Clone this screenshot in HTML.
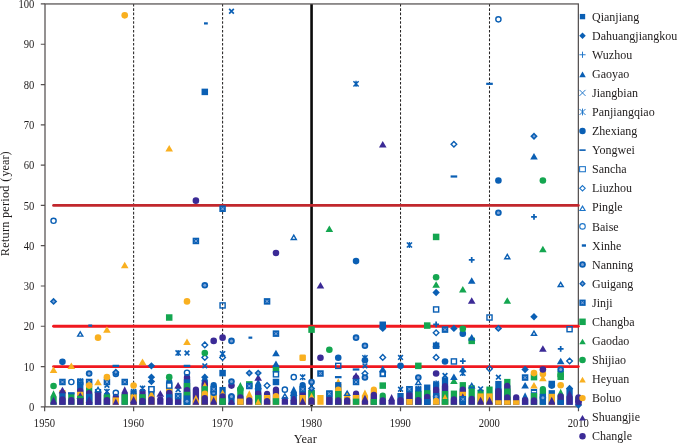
<!DOCTYPE html>
<html lang="en">
<head>
<meta charset="utf-8">
<title>Return period by year</title>
<style>html,body{margin:0;padding:0;background:#fff}body{width:678px;height:443px;overflow:hidden}</style>
</head>
<body>
<svg width="678" height="443" viewBox="0 0 678 443" style="display:block">
<rect width="678" height="443" fill="#fff"/>
<line x1="133.62" y1="3.95" x2="133.62" y2="406.85" stroke="#262424" stroke-width="1.05" stroke-dasharray="2.6 1.73"/>
<line x1="222.59" y1="3.95" x2="222.59" y2="406.85" stroke="#262424" stroke-width="1.05" stroke-dasharray="2.6 1.73"/>
<line x1="400.53" y1="3.95" x2="400.53" y2="406.85" stroke="#262424" stroke-width="1.05" stroke-dasharray="2.6 1.73"/>
<line x1="489.5" y1="3.95" x2="489.5" y2="406.85" stroke="#262424" stroke-width="1.05" stroke-dasharray="2.6 1.73"/>
<line x1="311.56" y1="3.95" x2="311.56" y2="406.85" stroke="#0a0a0a" stroke-width="2.6"/>
<rect x="45" y="3.95" width="533.35" height="402.9" fill="none" stroke="#555050" stroke-width="1.25"/>
<path d="M40.8 406.85H45M40.8 366.56H45M40.8 326.27H45M40.8 285.98H45M40.8 245.69H45M40.8 205.4H45M40.8 165.11H45M40.8 124.82H45M40.8 84.53H45M40.8 44.24H45M40.8 3.95H45M44.65 406.85V411.35M133.62 406.85V411.35M222.59 406.85V411.35M311.56 406.85V411.35M400.53 406.85V411.35M489.5 406.85V411.35M578.47 406.85V411.35" stroke="#555050" stroke-width="1.2" fill="none"/>
<line x1="53.55" y1="205.4" x2="578.35" y2="205.4" stroke="#c1272d" stroke-width="2.8" stroke-linecap="round"/>
<line x1="53.55" y1="326.27" x2="578.35" y2="326.27" stroke="#f0181f" stroke-width="2.8" stroke-linecap="round"/>
<line x1="53.55" y1="366.56" x2="578.35" y2="366.56" stroke="#f0181f" stroke-width="2.8" stroke-linecap="round"/>
<g>
<path d="M50.4 404.8V396.66L53.55 390.36L56.7 396.66V404.8Z" fill="#14a650"/>
<path d="M50.4 404.8V403.11L53.55 396.81L56.7 403.11V404.8Z" fill="#3b2a96"/>
<circle cx="53.55" cy="386.01" r="3.3" fill="#14a650"/>
<polygon points="53.55,366.59 57.35,373.09 49.75,373.09" fill="#f9b020"/>
<polygon points="53.55,297.7 57.25,301.4 53.55,305.1 49.85,301.4" fill="#0a5fb4"/><polygon points="53.55,299.9 55.05,301.4 53.55,302.9 52.05,301.4" fill="#7aa2d8"/>
<circle cx="53.55" cy="220.82" r="2.6" fill="none" stroke="#0a5fb4" stroke-width="1.4"/>
<path d="M59.29 404.8V390.16H65.59V404.8Z" fill="#f9b020"/>
<path d="M59.29 404.8V392.98H65.59V404.8Z" fill="#0a5fb4"/>
<path d="M59.29 404.8V399.3A3.15 3.15 0 0 1 65.59 399.3V404.8Z" fill="#3b2a96"/>
<polygon points="62.44,386.73 66.24,393.23 58.64,393.23" fill="#3b2a96"/>
<rect x="59.19" y="378.73" width="6.5" height="6.5" fill="#0a5fb4"/><path d="M60.94 380.48L63.94 383.48M63.94 380.48L60.94 383.48" stroke="#7aa2d8" stroke-width="0.9" fill="none"/><circle cx="62.44" cy="381.98" r="0.9" fill="#7aa2d8"/>
<circle cx="62.44" cy="361.83" r="3.3" fill="#0a5fb4"/>
<path d="M68.19 404.8V393.38H74.49V404.8Z" fill="#14a650"/>
<path d="M68.19 404.8V400.11A3.15 3.15 0 0 1 74.49 400.11V404.8Z" fill="#3b2a96"/>
<rect x="68.04" y="392.16" width="6.6" height="2.2" fill="#0a5fb4"/>
<circle cx="71.34" cy="381.98" r="2.6" fill="none" stroke="#0a5fb4" stroke-width="1.4"/>
<polygon points="71.34,362.56 75.14,369.06 67.54,369.06" fill="#f9b020"/>
<path d="M77.09 404.8V382.1H83.39V404.8Z" fill="#0a5fb4"/>
<path d="M77.09 404.8V390.84A3.15 3.15 0 0 1 83.39 390.84V404.8Z" fill="#3b2a96"/>
<path d="M77.09 404.8V391.77H83.39V404.8Z" fill="#f9b020"/>
<polygon points="80.24,392.37 84.04,398.87 76.44,398.87" fill="#3b2a96"/>
<path d="M77.09 404.8V395.8H83.39V404.8Z" fill="#14a650"/>
<path d="M77.09 404.8V398.22H83.39V404.8Z" fill="#3b2a96"/>
<rect x="76.99" y="378.73" width="6.5" height="6.5" fill="#0a5fb4"/><path d="M78.74 380.48L81.74 383.48M81.74 380.48L78.74 383.48" stroke="#7aa2d8" stroke-width="0.9" fill="none"/><circle cx="80.24" cy="381.98" r="0.9" fill="#7aa2d8"/>
<path d="M77.64 378.57L82.84 383.77M82.84 378.57L77.64 383.77M80.24 378.17V384.17" stroke="#0a5fb4" stroke-width="1.45" fill="none"/>
<polygon points="80.24,331.83 82.79,336.13 77.69,336.13" fill="none" stroke="#0a5fb4" stroke-width="1.4"/>
<path d="M85.98 404.8V385.73H92.28V404.8Z" fill="#14a650"/>
<path d="M85.98 404.8V393.26A3.15 3.15 0 0 1 92.28 393.26V404.8Z" fill="#3b2a96"/>
<path d="M85.98 404.8V393.78H92.28V404.8Z" fill="#0a5fb4"/>
<path d="M85.98 404.8V402.3L89.13 396L92.28 402.3V404.8Z" fill="#3b2a96"/>
<rect x="85.88" y="378.73" width="6.5" height="6.5" fill="#0a5fb4"/><path d="M87.63 380.48L90.63 383.48M90.63 380.48L87.63 383.48" stroke="#7aa2d8" stroke-width="0.9" fill="none"/><circle cx="89.13" cy="381.98" r="0.9" fill="#7aa2d8"/>
<circle cx="89.13" cy="385.6" r="3.3" fill="#f9b020"/>
<circle cx="89.13" cy="373.52" r="3.3" fill="#0a5fb4"/><circle cx="89.13" cy="373.52" r="1.5" fill="#7aa2d8"/>
<rect x="88.33" y="324.47" width="3.8" height="2.2" fill="#0a5fb4"/>
<path d="M94.88 404.8V388.95H101.18V404.8Z" fill="#0a5fb4"/>
<path d="M94.88 404.8V391.77H101.18V404.8Z" fill="#3b2a96"/>
<polygon points="98.03,387.43 100.58,391.73 95.48,391.73" fill="#fff" stroke="#0a5fb4" stroke-width="1.4"/>
<polygon points="98.03,378.68 101.83,385.18 94.23,385.18" fill="#f9b020"/>
<circle cx="98.03" cy="337.66" r="3.3" fill="#f9b020"/>
<path d="M103.78 404.8V395.45L106.93 389.15L110.08 395.45V404.8Z" fill="#3b2a96"/>
<path d="M103.78 404.8V393.78H110.08V404.8Z" fill="#14a650"/>
<path d="M103.78 404.8V400.11A3.15 3.15 0 0 1 110.08 400.11V404.8Z" fill="#3b2a96"/>
<path d="M104.33 389.05L109.53 394.25M109.53 389.05L104.33 394.25M106.93 388.65V394.65" stroke="#0a5fb4" stroke-width="1.45" fill="none"/>
<path d="M104.58 382.85L109.28 387.55M109.28 382.85L104.58 387.55" stroke="#0a5fb4" stroke-width="1.7" fill="none"/>
<rect x="103.68" y="378.73" width="6.5" height="6.5" fill="#0a5fb4"/><path d="M105.43 380.48L108.43 383.48M108.43 380.48L105.43 383.48" stroke="#7aa2d8" stroke-width="0.9" fill="none"/><circle cx="106.93" cy="381.98" r="0.9" fill="#7aa2d8"/>
<circle cx="106.93" cy="377.14" r="3.3" fill="#f9b020"/>
<polygon points="106.93,326.3 110.73,332.8 103.13,332.8" fill="#f9b020"/>
<path d="M112.68 404.8V396.88A3.15 3.15 0 0 1 118.98 396.88V404.8Z" fill="#3b2a96"/>
<path d="M112.68 404.8V397.41H118.98V404.8Z" fill="#f9b020"/>
<path d="M112.68 404.8V404.72L115.83 398.42L118.98 404.72V404.8Z" fill="#3b2a96"/>
<circle cx="115.83" cy="392.85" r="2.6" fill="none" stroke="#0a5fb4" stroke-width="1.4"/>
<circle cx="115.83" cy="373.92" r="3.3" fill="#0a5fb4"/><circle cx="115.83" cy="373.92" r="1.5" fill="#7aa2d8"/>
<polygon points="115.83,368.61 119.53,372.31 115.83,376.01 112.13,372.31" fill="#0a5fb4"/><polygon points="115.83,370.81 117.33,372.31 115.83,373.81 114.33,372.31" fill="#7aa2d8"/>
<rect x="112.53" y="364.76" width="6.6" height="2.2" fill="#0a5fb4"/>
<path d="M121.57 404.8V392.63L124.72 386.33L127.87 392.63V404.8Z" fill="#3b2a96"/>
<path d="M121.57 404.8V394.19H127.87V404.8Z" fill="#14a650"/>
<rect x="121.47" y="378.73" width="6.5" height="6.5" fill="#0a5fb4"/><path d="M123.22 380.48L126.22 383.48M126.22 380.48L123.22 383.48" stroke="#7aa2d8" stroke-width="0.9" fill="none"/><circle cx="124.72" cy="381.98" r="0.9" fill="#7aa2d8"/>
<polygon points="124.72,261.84 128.52,268.34 120.92,268.34" fill="#f9b020"/>
<circle cx="124.72" cy="15.34" r="3.3" fill="#f9b020"/>
<path d="M130.47 404.8V390.16H136.77V404.8Z" fill="#0a5fb4"/>
<path d="M130.47 404.8V395.67A3.15 3.15 0 0 1 136.77 395.67V404.8Z" fill="#f9b020"/>
<path d="M130.47 404.8V402.3L133.62 396L136.77 402.3V404.8Z" fill="#3b2a96"/>
<path d="M131.02 389.05L136.22 394.25M136.22 389.05L131.02 394.25M133.62 388.65V394.65" stroke="#0a5fb4" stroke-width="1.45" fill="none"/>
<circle cx="133.62" cy="385.6" r="3.3" fill="#f9b020"/>
<path d="M139.37 404.8V391.65A3.15 3.15 0 0 1 145.67 391.65V404.8Z" fill="#3b2a96"/>
<path d="M139.37 404.8V394.19H145.67V404.8Z" fill="#14a650"/>
<path d="M139.37 404.8V400.91A3.15 3.15 0 0 1 145.67 400.91V404.8Z" fill="#3b2a96"/>
<path d="M139.92 385.82L145.12 391.02M145.12 385.82L139.92 391.02M142.52 385.42V391.42" stroke="#0a5fb4" stroke-width="1.45" fill="none"/>
<polygon points="142.52,358.53 146.32,365.03 138.72,365.03" fill="#f9b020"/>
<path d="M148.26 404.8V386.13H154.56V404.8Z" fill="#0a5fb4"/>
<path d="M148.26 404.8V396.66L151.41 390.36L154.56 396.66V404.8Z" fill="#f9b020"/>
<path d="M148.26 404.8V399.3A3.15 3.15 0 0 1 154.56 399.3V404.8Z" fill="#3b2a96"/>
<rect x="148.86" y="386.68" width="5.1" height="5.1" fill="#fff" stroke="#0a5fb4" stroke-width="1.4"/>
<polygon points="151.41,377.87 155.11,381.57 151.41,385.27 147.71,381.57" fill="#0a5fb4"/>
<polygon points="151.41,373.44 155.11,377.14 151.41,380.84 147.71,377.14" fill="#0a5fb4"/>
<polygon points="151.41,362.16 155.11,365.86 151.41,369.56 147.71,365.86" fill="#0a5fb4"/>
<path d="M157.16 404.8V399.3A3.15 3.15 0 0 1 163.46 399.3V404.8Z" fill="#3b2a96"/>
<polygon points="160.31,390.36 164.11,396.86 156.51,396.86" fill="#3b2a96"/>
<path d="M166.06 404.8V381.98A3.15 3.15 0 0 1 172.36 381.98V404.8Z" fill="#0a5fb4"/>
<path d="M166.06 404.8V389.23A3.15 3.15 0 0 1 172.36 389.23V404.8Z" fill="#f9b020"/>
<path d="M166.06 404.8V392.85A3.15 3.15 0 0 1 172.36 392.85V404.8Z" fill="#3b2a96"/>
<path d="M166.06 404.8V394.19H172.36V404.8Z" fill="#0a5fb4"/>
<path d="M166.06 404.8V400.51A3.15 3.15 0 0 1 172.36 400.51V404.8Z" fill="#3b2a96"/>
<rect x="166.66" y="383.05" width="5.1" height="5.1" fill="#fff" stroke="#0a5fb4" stroke-width="1.4"/>
<circle cx="169.21" cy="377.14" r="3.3" fill="#14a650"/>
<rect x="165.96" y="314.26" width="6.5" height="6.5" fill="#14a650"/>
<polygon points="169.21,144.99 173.01,151.49 165.41,151.49" fill="#f9b020"/>
<path d="M174.96 404.8V392.98H181.26V404.8Z" fill="#0a5fb4"/>
<path d="M174.96 404.8V400.11A3.15 3.15 0 0 1 181.26 400.11V404.8Z" fill="#3b2a96"/>
<rect x="174.86" y="392.83" width="6.5" height="6.5" fill="#0a5fb4"/><path d="M176.61 394.58L179.61 397.58M179.61 394.58L176.61 397.58" stroke="#7aa2d8" stroke-width="0.9" fill="none"/><circle cx="178.11" cy="396.08" r="0.9" fill="#7aa2d8"/>
<path d="M175.76 387.28L180.46 391.98M180.46 387.28L175.76 391.98" stroke="#0a5fb4" stroke-width="1.7" fill="none"/>
<polygon points="178.11,381.9 181.91,388.4 174.31,388.4" fill="#3b2a96"/>
<path d="M175.51 350.37L180.71 355.57M180.71 350.37L175.51 355.57M178.11 349.97V355.97" stroke="#0a5fb4" stroke-width="1.45" fill="none"/>
<path d="M183.85 404.8V377.14A3.15 3.15 0 0 1 190.15 377.14V404.8Z" fill="#3b2a96"/>
<path d="M183.85 404.8V379.28H190.15V404.8Z" fill="#0a5fb4"/>
<path d="M183.85 404.8V382.91H190.15V404.8Z" fill="#14a650"/>
<path d="M183.85 404.8V390.03A3.15 3.15 0 0 1 190.15 390.03V404.8Z" fill="#3b2a96"/>
<path d="M183.85 404.8V391.77H190.15V404.8Z" fill="#14a650"/>
<path d="M183.85 404.8V395.39H190.15V404.8Z" fill="#0a5fb4"/>
<circle cx="187" cy="401.32" r="3.3" fill="#0a5fb4"/><circle cx="187" cy="401.32" r="1.5" fill="#7aa2d8"/>
<circle cx="187" cy="372.71" r="2.6" fill="none" stroke="#0a5fb4" stroke-width="1.4"/>
<rect x="183.7" y="364.76" width="6.6" height="2.2" fill="#0a5fb4"/>
<path d="M184.65 350.62L189.35 355.32M189.35 350.62L184.65 355.32" stroke="#0a5fb4" stroke-width="1.7" fill="none"/>
<polygon points="187,338.39 190.8,344.89 183.2,344.89" fill="#f9b020"/>
<circle cx="187" cy="301.4" r="3.3" fill="#f9b020"/>
<path d="M192.75 404.8V389.63A3.15 3.15 0 0 1 199.05 389.63V404.8Z" fill="#3b2a96"/>
<path d="M192.75 404.8V401.09L195.9 394.79L199.05 401.09V404.8Z" fill="#f9b020"/>
<path d="M192.75 404.8V404.32L195.9 398.02L199.05 404.32V404.8Z" fill="#3b2a96"/>
<rect x="192.65" y="237.71" width="6.5" height="6.5" fill="#0a5fb4"/><path d="M194.4 239.46L197.4 242.46M197.4 239.46L194.4 242.46" stroke="#7aa2d8" stroke-width="0.9" fill="none"/><circle cx="195.9" cy="240.96" r="0.9" fill="#7aa2d8"/>
<circle cx="195.9" cy="200.67" r="3.3" fill="#3b2a96"/>
<path d="M201.65 404.8V380.14L204.8 373.84L207.95 380.14V404.8Z" fill="#0a5fb4"/>
<path d="M201.65 404.8V383.77L204.8 377.47L207.95 383.77V404.8Z" fill="#3b2a96"/>
<path d="M201.65 404.8V388.2L204.8 381.9L207.95 388.2V404.8Z" fill="#f9b020"/>
<path d="M201.65 404.8V386.13H207.95V404.8Z" fill="#14a650"/>
<path d="M201.65 404.8V393.66A3.15 3.15 0 0 1 207.95 393.66V404.8Z" fill="#f9b020"/>
<path d="M201.65 404.8V398.09A3.15 3.15 0 0 1 207.95 398.09V404.8Z" fill="#3b2a96"/>
<polygon points="204.8,373.44 208.5,377.14 204.8,380.84 201.1,377.14" fill="#0a5fb4"/>
<path d="M202.45 363.51L207.15 368.21M207.15 363.51L202.45 368.21" stroke="#0a5fb4" stroke-width="1.7" fill="none"/>
<polygon points="204.8,354.6 207.6,357.4 204.8,360.2 202,357.4" fill="none" stroke="#0a5fb4" stroke-width="1.4"/>
<circle cx="204.8" cy="352.97" r="3.3" fill="#14a650"/>
<polygon points="204.8,342.11 207.6,344.91 204.8,347.71 202,344.91" fill="none" stroke="#0a5fb4" stroke-width="1.4"/>
<circle cx="204.8" cy="285.28" r="3.3" fill="#0a5fb4"/><circle cx="204.8" cy="285.28" r="1.5" fill="#7aa2d8"/>
<rect x="201.55" y="88.64" width="6.5" height="6.5" fill="#0a5fb4"/>
<rect x="204" y="22.3" width="3.8" height="2.2" fill="#0a5fb4"/>
<path d="M210.54 404.8V385.2A3.15 3.15 0 0 1 216.84 385.2V404.8Z" fill="#0a5fb4"/>
<path d="M210.54 404.8V396.48A3.15 3.15 0 0 1 216.84 396.48V404.8Z" fill="#f9b020"/>
<path d="M210.54 404.8V403.11L213.69 396.81L216.84 403.11V404.8Z" fill="#3b2a96"/>
<circle cx="213.69" cy="392.85" r="3.3" fill="#0a5fb4"/><circle cx="213.69" cy="392.85" r="1.5" fill="#7aa2d8"/>
<rect x="210.44" y="385.98" width="6.5" height="6.5" fill="#0a5fb4"/><path d="M212.19 387.73L215.19 390.73M215.19 387.73L212.19 390.73" stroke="#7aa2d8" stroke-width="0.9" fill="none"/><circle cx="213.69" cy="389.23" r="0.9" fill="#7aa2d8"/>
<circle cx="213.69" cy="340.88" r="3.3" fill="#3b2a96"/>
<path d="M219.44 404.8V386.93H225.74V404.8Z" fill="#0a5fb4"/>
<path d="M219.44 404.8V395.85L222.59 389.55L225.74 395.85V404.8Z" fill="#f9b020"/>
<path d="M219.44 404.8V396.48A3.15 3.15 0 0 1 225.74 396.48V404.8Z" fill="#3b2a96"/>
<path d="M219.44 404.8V398.22H225.74V404.8Z" fill="#14a650"/>
<rect x="219.34" y="369.86" width="6.5" height="6.5" fill="#0a5fb4"/>
<polygon points="222.59,354.6 225.39,357.4 222.59,360.2 219.79,357.4" fill="none" stroke="#0a5fb4" stroke-width="1.4"/>
<path d="M219.99 351.17L225.19 356.37M225.19 351.17L219.99 356.37M222.59 350.77V356.77" stroke="#0a5fb4" stroke-width="1.45" fill="none"/>
<circle cx="222.59" cy="337.66" r="3.3" fill="#3b2a96"/>
<rect x="220.04" y="302.88" width="5.1" height="5.1" fill="none" stroke="#0a5fb4" stroke-width="1.4"/>
<rect x="219.34" y="205.48" width="6.5" height="6.5" fill="#0a5fb4"/><path d="M221.09 207.23L224.09 210.23M224.09 207.23L221.09 210.23" stroke="#7aa2d8" stroke-width="0.9" fill="none"/><circle cx="222.59" cy="208.73" r="0.9" fill="#7aa2d8"/>
<path d="M228.34 404.8V396.48A3.15 3.15 0 0 1 234.64 396.48V404.8Z" fill="#0a5fb4"/>
<path d="M228.34 404.8V403.51L231.49 397.21L234.64 403.51V404.8Z" fill="#3b2a96"/>
<circle cx="231.49" cy="396.48" r="3.3" fill="#0a5fb4"/><circle cx="231.49" cy="396.48" r="1.5" fill="#7aa2d8"/>
<circle cx="231.49" cy="385.6" r="3.3" fill="#3b2a96"/>
<circle cx="231.49" cy="381.57" r="3.3" fill="#0a5fb4"/><circle cx="231.49" cy="381.57" r="1.5" fill="#7aa2d8"/>
<circle cx="231.49" cy="340.88" r="3.3" fill="#0a5fb4"/><circle cx="231.49" cy="340.88" r="1.5" fill="#7aa2d8"/>
<path d="M229.14 8.96L233.84 13.66M233.84 8.96L229.14 13.66" stroke="#0a5fb4" stroke-width="1.7" fill="none"/>
<path d="M237.23 404.8V388.2L240.38 381.9L243.53 388.2V404.8Z" fill="#14a650"/>
<circle cx="240.38" cy="389.23" r="3.3" fill="#14a650"/>
<path d="M237.23 404.8V397.29A3.15 3.15 0 0 1 243.53 397.29V404.8Z" fill="#3b2a96"/>
<path d="M237.23 404.8V398.62H243.53V404.8Z" fill="#f9b020"/>
<path d="M246.13 404.8V396.66L249.28 390.36L252.43 396.66V404.8Z" fill="#f9b020"/>
<path d="M246.13 404.8V400.51A3.15 3.15 0 0 1 252.43 400.51V404.8Z" fill="#3b2a96"/>
<rect x="246.03" y="381.14" width="6.5" height="6.5" fill="#14a650"/>
<rect x="246.03" y="382.76" width="6.5" height="6.5" fill="#0a5fb4"/><path d="M247.78 384.51L250.78 387.51M250.78 384.51L247.78 387.51" stroke="#7aa2d8" stroke-width="0.9" fill="none"/><circle cx="249.28" cy="386.01" r="0.9" fill="#7aa2d8"/>
<polygon points="249.28,369.41 252.98,373.11 249.28,376.81 245.58,373.11" fill="#0a5fb4"/><polygon points="249.28,371.61 250.78,373.11 249.28,374.61 247.78,373.11" fill="#7aa2d8"/>
<rect x="248.48" y="336.56" width="3.8" height="2.2" fill="#0a5fb4"/>
<path d="M255.03 404.8V384.98L258.18 378.68L261.33 384.98V404.8Z" fill="#0a5fb4"/>
<path d="M255.03 404.8V393.66A3.15 3.15 0 0 1 261.33 393.66V404.8Z" fill="#3b2a96"/>
<path d="M255.03 404.8V394.99H261.33V404.8Z" fill="#14a650"/>
<path d="M255.03 404.8V404.72L258.18 398.42L261.33 404.72V404.8Z" fill="#f9b020"/>
<polygon points="258.18,382.71 261.98,389.21 254.38,389.21" fill="#0a5fb4"/>
<polygon points="258.18,374.24 261.98,380.74 254.38,380.74" fill="#3b2a96"/>
<polygon points="258.18,369.41 261.88,373.11 258.18,376.81 254.48,373.11" fill="#0a5fb4"/><polygon points="258.18,371.61 259.68,373.11 258.18,374.61 256.68,373.11" fill="#7aa2d8"/>
<path d="M263.93 404.8V393.66A3.15 3.15 0 0 1 270.22 393.66V404.8Z" fill="#3b2a96"/>
<path d="M263.93 404.8V394.99H270.22V404.8Z" fill="#f9b020"/>
<path d="M263.93 404.8V400.91A3.15 3.15 0 0 1 270.22 400.91V404.8Z" fill="#3b2a96"/>
<polygon points="267.07,382.8 269.88,385.6 267.07,388.4 264.27,385.6" fill="none" stroke="#0a5fb4" stroke-width="1.4"/>
<rect x="263.82" y="298.15" width="6.5" height="6.5" fill="#0a5fb4"/><path d="M265.57 299.9L268.57 302.9M268.57 299.9L265.57 302.9" stroke="#7aa2d8" stroke-width="0.9" fill="none"/><circle cx="267.07" cy="301.4" r="0.9" fill="#7aa2d8"/>
<path d="M272.82 404.8V389.63A3.15 3.15 0 0 1 279.12 389.63V404.8Z" fill="#3b2a96"/>
<path d="M272.82 404.8V396.08A3.15 3.15 0 0 1 279.12 396.08V404.8Z" fill="#f9b020"/>
<path d="M272.82 404.8V398.22H279.12V404.8Z" fill="#14a650"/>
<rect x="272.72" y="378.73" width="6.5" height="6.5" fill="#0a5fb4"/>
<rect x="272.72" y="365.83" width="6.5" height="6.5" fill="#14a650"/>
<rect x="273.42" y="371.77" width="5.1" height="5.1" fill="none" stroke="#0a5fb4" stroke-width="1.4"/>
<polygon points="275.97,360.55 279.77,367.05 272.17,367.05" fill="#0a5fb4"/>
<polygon points="275.97,349.67 279.77,356.17 272.17,356.17" fill="#0a5fb4"/>
<rect x="272.72" y="330.38" width="6.5" height="6.5" fill="#0a5fb4"/><path d="M274.47 332.13L277.47 335.13M277.47 332.13L274.47 335.13" stroke="#7aa2d8" stroke-width="0.9" fill="none"/><circle cx="275.97" cy="333.63" r="0.9" fill="#7aa2d8"/>
<circle cx="275.97" cy="253.05" r="3.3" fill="#3b2a96"/>
<path d="M281.72 404.8V400.11A3.15 3.15 0 0 1 288.02 400.11V404.8Z" fill="#3b2a96"/>
<polygon points="284.87,393.87 287.42,398.17 282.32,398.17" fill="none" stroke="#0a5fb4" stroke-width="1.4"/>
<circle cx="284.87" cy="389.63" r="2.6" fill="none" stroke="#0a5fb4" stroke-width="1.4"/>
<path d="M290.62 404.8V392.23L293.77 385.93L296.92 392.23V404.8Z" fill="#0a5fb4"/>
<path d="M290.62 404.8V400.29L293.77 393.99L296.92 400.29V404.8Z" fill="#3b2a96"/>
<polygon points="293.77,391.05 296.32,395.35 291.22,395.35" fill="none" stroke="#0a5fb4" stroke-width="1.4"/>
<circle cx="293.77" cy="377.14" r="2.6" fill="none" stroke="#0a5fb4" stroke-width="1.4"/>
<polygon points="293.77,235.13 296.32,239.43 291.22,239.43" fill="none" stroke="#0a5fb4" stroke-width="1.4"/>
<path d="M299.51 404.8V385.2A3.15 3.15 0 0 1 305.81 385.2V404.8Z" fill="#0a5fb4"/>
<path d="M299.51 404.8V393.26A3.15 3.15 0 0 1 305.81 393.26V404.8Z" fill="#3b2a96"/>
<path d="M299.51 404.8V394.99H305.81V404.8Z" fill="#f9b020"/>
<path d="M299.51 404.8V403.91L302.66 397.61L305.81 403.91V404.8Z" fill="#3b2a96"/>
<rect x="299.41" y="385.98" width="6.5" height="6.5" fill="#0a5fb4"/><path d="M301.16 387.73L304.16 390.73M304.16 387.73L301.16 390.73" stroke="#7aa2d8" stroke-width="0.9" fill="none"/><circle cx="302.66" cy="389.23" r="0.9" fill="#7aa2d8"/>
<path d="M300.06 374.54L305.26 379.74M305.26 374.54L300.06 379.74M302.66 374.14V380.14" stroke="#0a5fb4" stroke-width="1.45" fill="none"/>
<rect x="299.41" y="354.55" width="6.5" height="6.5" rx="1.3" fill="#f9b020"/>
<path d="M308.41 404.8V390.62L311.56 384.32L314.71 390.62V404.8Z" fill="#0a5fb4"/>
<path d="M308.41 404.8V390.16H314.71V404.8Z" fill="#14a650"/>
<path d="M308.41 404.8V399.08L311.56 392.78L314.71 399.08V404.8Z" fill="#f9b020"/>
<path d="M308.41 404.8V400.51A3.15 3.15 0 0 1 314.71 400.51V404.8Z" fill="#3b2a96"/>
<polygon points="311.56,384.72 315.26,388.42 311.56,392.12 307.86,388.42" fill="#0a5fb4"/><polygon points="311.56,386.92 313.06,388.42 311.56,389.92 310.06,388.42" fill="#7aa2d8"/>
<circle cx="311.56" cy="381.98" r="3.3" fill="#0a5fb4"/><circle cx="311.56" cy="381.98" r="1.5" fill="#7aa2d8"/>
<rect x="308.31" y="326.35" width="6.5" height="6.5" fill="#14a650"/>
<path d="M317.31 404.8V394.99H323.61V404.8Z" fill="#f9b020"/>
<rect x="317.21" y="370.27" width="6.5" height="6.5" fill="#0a5fb4"/><path d="M318.96 372.02L321.96 375.02M321.96 372.02L318.96 375.02" stroke="#7aa2d8" stroke-width="0.9" fill="none"/><circle cx="320.46" cy="373.52" r="0.9" fill="#7aa2d8"/>
<circle cx="320.46" cy="357.8" r="3.3" fill="#3b2a96"/>
<polygon points="320.46,281.98 324.26,288.48 316.66,288.48" fill="#3b2a96"/>
<path d="M326.2 404.8V390.56H332.5V404.8Z" fill="#0a5fb4"/>
<path d="M326.2 404.8V398.49A3.15 3.15 0 0 1 332.5 398.49V404.8Z" fill="#3b2a96"/>
<rect x="326.1" y="390.41" width="6.5" height="6.5" fill="#0a5fb4"/><path d="M327.85 392.16L330.85 395.16M330.85 392.16L327.85 395.16" stroke="#7aa2d8" stroke-width="0.9" fill="none"/><circle cx="329.35" cy="393.66" r="0.9" fill="#7aa2d8"/>
<circle cx="329.35" cy="349.74" r="3.3" fill="#14a650"/>
<polygon points="329.35,225.57 333.15,232.07 325.55,232.07" fill="#14a650"/>
<path d="M335.1 404.8V384.57L338.25 378.27L341.4 384.57V404.8Z" fill="#f9b020"/>
<path d="M335.1 404.8V382.1H341.4V404.8Z" fill="#0a5fb4"/>
<path d="M335.1 404.8V389.63A3.15 3.15 0 0 1 341.4 389.63V404.8Z" fill="#f9b020"/>
<path d="M335.1 404.8V390.96H341.4V404.8Z" fill="#14a650"/>
<path d="M335.1 404.8V400.51A3.15 3.15 0 0 1 341.4 400.51V404.8Z" fill="#3b2a96"/>
<rect x="334.95" y="376.04" width="6.6" height="2.2" fill="#0a5fb4"/>
<rect x="335.7" y="363.31" width="5.1" height="5.1" fill="none" stroke="#0a5fb4" stroke-width="1.4"/>
<circle cx="338.25" cy="357.8" r="3.3" fill="#0a5fb4"/>
<path d="M344 404.8V397.06L347.15 390.76L350.3 397.06V404.8Z" fill="#f9b020"/>
<path d="M344 404.8V400.51A3.15 3.15 0 0 1 350.3 400.51V404.8Z" fill="#3b2a96"/>
<polygon points="347.15,391.05 349.7,395.35 344.6,395.35" fill="none" stroke="#0a5fb4" stroke-width="1.4"/>
<path d="M352.89 404.8V393.66A3.15 3.15 0 0 1 359.19 393.66V404.8Z" fill="#3b2a96"/>
<path d="M352.89 404.8V394.99H359.19V404.8Z" fill="#f9b020"/>
<path d="M352.89 404.8V398.62H359.19V404.8Z" fill="#14a650"/>
<polygon points="356.04,372.23 359.84,378.73 352.24,378.73" fill="#3b2a96"/>
<circle cx="356.04" cy="377.95" r="3.3" fill="#3b2a96"/>
<rect x="352.79" y="378.73" width="6.5" height="6.5" fill="#0a5fb4"/><path d="M354.54 380.48L357.54 383.48M357.54 380.48L354.54 383.48" stroke="#7aa2d8" stroke-width="0.9" fill="none"/><circle cx="356.04" cy="381.98" r="0.9" fill="#7aa2d8"/>
<rect x="352.74" y="368.39" width="6.6" height="2.2" fill="#0a5fb4"/>
<circle cx="356.04" cy="337.66" r="3.3" fill="#0a5fb4"/><circle cx="356.04" cy="337.66" r="1.5" fill="#7aa2d8"/>
<circle cx="356.04" cy="261.11" r="3.3" fill="#0a5fb4"/>
<path d="M353.44 81.23L358.64 86.43M358.64 81.23L353.44 86.43M356.04 80.83V86.83" stroke="#0a5fb4" stroke-width="1.45" fill="none"/>
<path d="M361.79 404.8V395.85L364.94 389.55L368.09 395.85V404.8Z" fill="#f9b020"/>
<path d="M361.79 404.8V401.09L364.94 394.79L368.09 401.09V404.8Z" fill="#3b2a96"/>
<polygon points="364.94,370.72 367.74,373.52 364.94,376.32 362.14,373.52" fill="none" stroke="#0a5fb4" stroke-width="1.4"/>
<circle cx="364.94" cy="377.54" r="3.3" fill="#0a5fb4"/><circle cx="364.94" cy="377.54" r="1.5" fill="#7aa2d8"/>
<path d="M362.59 363.51L367.29 368.21M367.29 363.51L362.59 368.21" stroke="#0a5fb4" stroke-width="1.7" fill="none"/>
<circle cx="364.94" cy="360.22" r="3.3" fill="#0a5fb4"/>
<path d="M362.34 355.2L367.54 360.4M367.54 355.2L362.34 360.4M364.94 354.8V360.8" stroke="#0a5fb4" stroke-width="1.45" fill="none"/>
<circle cx="364.94" cy="345.72" r="3.3" fill="#0a5fb4"/><circle cx="364.94" cy="345.72" r="1.5" fill="#7aa2d8"/>
<path d="M370.69 404.8V389.63A3.15 3.15 0 0 1 376.99 389.63V404.8Z" fill="#f9b020"/>
<path d="M370.69 404.8V394.87A3.15 3.15 0 0 1 376.99 394.87V404.8Z" fill="#3b2a96"/>
<path d="M370.69 404.8V399.02H376.99V404.8Z" fill="#14a650"/>
<path d="M379.59 404.8V395.67A3.15 3.15 0 0 1 385.89 395.67V404.8Z" fill="#14a650"/>
<path d="M379.59 404.8V400.51A3.15 3.15 0 0 1 385.89 400.51V404.8Z" fill="#3b2a96"/>
<rect x="379.49" y="382.35" width="6.5" height="6.5" fill="#14a650"/>
<rect x="379.49" y="370.67" width="6.5" height="6.5" fill="#0a5fb4"/><rect x="381.34" y="372.52" width="2.8" height="2.8" fill="#fff"/>
<polygon points="382.74,365.78 386.54,372.28 378.94,372.28" fill="#0a5fb4"/>
<polygon points="382.74,354.6 385.54,357.4 382.74,360.2 379.94,357.4" fill="none" stroke="#0a5fb4" stroke-width="1.4"/>
<polygon points="382.74,324.69 386.44,328.39 382.74,332.09 379.04,328.39" fill="#0a5fb4"/>
<rect x="379.49" y="321.51" width="6.5" height="6.5" fill="#0a5fb4"/>
<polygon points="382.74,140.96 386.54,147.46 378.94,147.46" fill="#3b2a96"/>
<path d="M388.48 404.8V400.29L391.63 393.99L394.78 400.29V404.8Z" fill="#3b2a96"/>
<path d="M397.38 404.8V392.98H403.68V404.8Z" fill="#0a5fb4"/>
<path d="M397.38 404.8V400.11A3.15 3.15 0 0 1 403.68 400.11V404.8Z" fill="#3b2a96"/>
<path d="M398.18 386.88L402.88 391.58M402.88 386.88L398.18 391.58" stroke="#0a5fb4" stroke-width="1.7" fill="none"/>
<circle cx="400.53" cy="365.86" r="3.3" fill="#0a5fb4"/>
<path d="M398.18 355.05L402.88 359.75M402.88 355.05L398.18 359.75" stroke="#0a5fb4" stroke-width="1.7" fill="none"/>
<path d="M406.28 404.8V386.13H412.58V404.8Z" fill="#0a5fb4"/>
<path d="M406.28 404.8V394.06A3.15 3.15 0 0 1 412.58 394.06V404.8Z" fill="#3b2a96"/>
<path d="M406.28 404.8V399.02H412.58V404.8Z" fill="#f9b020"/>
<rect x="406.18" y="385.98" width="6.5" height="6.5" fill="#0a5fb4"/><path d="M407.93 387.73L410.93 390.73M410.93 387.73L407.93 390.73" stroke="#7aa2d8" stroke-width="0.9" fill="none"/><circle cx="409.43" cy="389.23" r="0.9" fill="#7aa2d8"/>
<path d="M406.83 242.39L412.03 247.59M412.03 242.39L406.83 247.59M409.43 241.99V247.99" stroke="#0a5fb4" stroke-width="1.45" fill="none"/>
<path d="M415.17 404.8V386.53H421.47V404.8Z" fill="#0a5fb4"/>
<path d="M415.17 404.8V390.96H421.47V404.8Z" fill="#14a650"/>
<path d="M415.17 404.8V400.11A3.15 3.15 0 0 1 421.47 400.11V404.8Z" fill="#3b2a96"/>
<path d="M415.72 386.23L420.92 391.43M420.92 386.23L415.72 391.43M418.32 385.83V391.83" stroke="#0a5fb4" stroke-width="1.45" fill="none"/>
<polygon points="418.32,380.18 420.87,384.48 415.77,384.48" fill="none" stroke="#0a5fb4" stroke-width="1.4"/>
<circle cx="418.32" cy="377.54" r="3.3" fill="#0a5fb4"/><circle cx="418.32" cy="377.54" r="1.5" fill="#7aa2d8"/>
<rect x="415.07" y="362.61" width="6.5" height="6.5" fill="#14a650"/>
<path d="M424.07 404.8V384.52H430.37V404.8Z" fill="#0a5fb4"/>
<path d="M424.07 404.8V390.16H430.37V404.8Z" fill="#14a650"/>
<path d="M424.07 404.8V396.88A3.15 3.15 0 0 1 430.37 396.88V404.8Z" fill="#3b2a96"/>
<path d="M424.07 404.8V399.02H430.37V404.8Z" fill="#0a5fb4"/>
<rect x="423.97" y="322.32" width="6.5" height="6.5" fill="#14a650"/>
<path d="M432.97 404.8V382.1H439.27V404.8Z" fill="#0a5fb4"/>
<path d="M432.97 404.8V389.63A3.15 3.15 0 0 1 439.27 389.63V404.8Z" fill="#3b2a96"/>
<path d="M432.97 404.8V392.98H439.27V404.8Z" fill="#0a5fb4"/>
<circle cx="436.12" cy="396.48" r="3.3" fill="#0a5fb4"/><circle cx="436.12" cy="396.48" r="1.5" fill="#7aa2d8"/>
<path d="M432.97 404.8V400.91A3.15 3.15 0 0 1 439.27 400.91V404.8Z" fill="#f9b020"/>
<path d="M433.52 380.99L438.72 386.19M438.72 380.99L433.52 386.19M436.12 380.59V386.59" stroke="#0a5fb4" stroke-width="1.45" fill="none"/>
<circle cx="436.12" cy="373.52" r="3.3" fill="#3b2a96"/>
<polygon points="436.12,354.6 438.92,357.4 436.12,360.2 433.32,357.4" fill="none" stroke="#0a5fb4" stroke-width="1.4"/>
<rect x="432.87" y="342.47" width="6.5" height="6.5" fill="#0a5fb4"/><path d="M434.62 344.22L437.62 347.22M437.62 344.22L434.62 347.22" stroke="#7aa2d8" stroke-width="0.9" fill="none"/><circle cx="436.12" cy="345.72" r="0.9" fill="#7aa2d8"/>
<polygon points="436.12,340.8 439.92,347.3 432.32,347.3" fill="#0a5fb4"/>
<polygon points="436.12,330.02 438.92,332.82 436.12,335.62 433.32,332.82" fill="none" stroke="#0a5fb4" stroke-width="1.4"/>
<path d="M433.22 324.36H439.02M436.12 321.46V327.26" stroke="#0a5fb4" stroke-width="1.7" fill="none"/>
<rect x="433.57" y="306.9" width="5.1" height="5.1" fill="none" stroke="#0a5fb4" stroke-width="1.4"/>
<polygon points="436.12,288.83 439.82,292.53 436.12,296.23 432.42,292.53" fill="#0a5fb4"/>
<polygon points="436.12,281.17 439.92,287.67 432.32,287.67" fill="#14a650"/>
<circle cx="436.12" cy="277.22" r="3.3" fill="#14a650"/>
<rect x="432.87" y="233.68" width="6.5" height="6.5" fill="#14a650"/>
<path d="M441.87 404.8V377.26H448.16V404.8Z" fill="#0a5fb4"/>
<path d="M441.87 404.8V386.01A3.15 3.15 0 0 1 448.16 386.01V404.8Z" fill="#3b2a96"/>
<path d="M441.87 404.8V390.96H448.16V404.8Z" fill="#14a650"/>
<path d="M441.87 404.8V400.29L445.01 393.99L448.16 400.29V404.8Z" fill="#f9b020"/>
<path d="M441.87 404.8V399.02H448.16V404.8Z" fill="#14a650"/>
<path d="M442.66 373.18L447.37 377.88M447.37 373.18L442.66 377.88" stroke="#0a5fb4" stroke-width="1.7" fill="none"/>
<circle cx="445.01" cy="361.43" r="3.3" fill="#0a5fb4"/>
<rect x="441.76" y="326.35" width="6.5" height="6.5" fill="#0a5fb4"/><path d="M443.51 328.1L446.51 331.1M446.51 328.1L443.51 331.1" stroke="#7aa2d8" stroke-width="0.9" fill="none"/><circle cx="445.01" cy="329.6" r="0.9" fill="#7aa2d8"/>
<path d="M450.76 404.8V390.56H457.06V404.8Z" fill="#14a650"/>
<path d="M450.76 404.8V399.3A3.15 3.15 0 0 1 457.06 399.3V404.8Z" fill="#3b2a96"/>
<polygon points="453.91,377.47 457.71,383.97 450.11,383.97" fill="#14a650"/>
<polygon points="453.91,373.44 457.71,379.94 450.11,379.94" fill="#0a5fb4"/>
<rect x="451.36" y="358.88" width="5.1" height="5.1" fill="none" stroke="#0a5fb4" stroke-width="1.4"/>
<polygon points="453.91,324.69 457.61,328.39 453.91,332.09 450.21,328.39" fill="#0a5fb4"/>
<rect x="450.61" y="175.4" width="6.6" height="2.2" fill="#0a5fb4"/>
<polygon points="453.91,141.46 456.71,144.26 453.91,147.06 451.11,144.26" fill="none" stroke="#0a5fb4" stroke-width="1.4"/>
<path d="M459.66 404.8V382.1H465.96V404.8Z" fill="#14a650"/>
<path d="M459.66 404.8V389.63A3.15 3.15 0 0 1 465.96 389.63V404.8Z" fill="#3b2a96"/>
<path d="M459.66 404.8V391.77H465.96V404.8Z" fill="#f9b020"/>
<path d="M459.66 404.8V399.48L462.81 393.18L465.96 399.48V404.8Z" fill="#3b2a96"/>
<path d="M459.66 404.8V396.2H465.96V404.8Z" fill="#0a5fb4"/>
<rect x="459.56" y="396.05" width="6.5" height="6.5" fill="#0a5fb4"/><path d="M461.31 397.8L464.31 400.8M464.31 397.8L461.31 400.8" stroke="#7aa2d8" stroke-width="0.9" fill="none"/><circle cx="462.81" cy="399.3" r="0.9" fill="#7aa2d8"/>
<path d="M460.21 370.51L465.41 375.71M465.41 370.51L460.21 375.71M462.81 370.11V376.11" stroke="#0a5fb4" stroke-width="1.45" fill="none"/>
<polygon points="462.81,365.78 466.61,372.28 459.01,372.28" fill="#0a5fb4"/>
<path d="M459.91 361.03H465.71M462.81 358.13V363.93" stroke="#0a5fb4" stroke-width="1.7" fill="none"/>
<circle cx="462.81" cy="333.63" r="3.3" fill="#0a5fb4"/>
<circle cx="462.81" cy="328.79" r="3.3" fill="#14a650"/>
<polygon points="462.81,286.01 466.61,292.51 459.01,292.51" fill="#14a650"/>
<path d="M468.56 404.8V385.32H474.86V404.8Z" fill="#14a650"/>
<path d="M468.56 404.8V398.9A3.15 3.15 0 0 1 474.86 398.9V404.8Z" fill="#3b2a96"/>
<polygon points="471.71,383.4 474.26,387.7 469.16,387.7" fill="none" stroke="#0a5fb4" stroke-width="1.4"/>
<rect x="468.46" y="337.63" width="6.5" height="6.5" fill="#14a650"/>
<polygon points="471.71,333.95 475.51,340.45 467.91,340.45" fill="#0a5fb4"/>
<polygon points="471.71,297.29 475.51,303.79 467.91,303.79" fill="#3b2a96"/>
<polygon points="471.71,277.15 475.51,283.65 467.91,283.65" fill="#0a5fb4"/>
<path d="M468.81 259.9H474.61M471.71 257V262.8" stroke="#0a5fb4" stroke-width="1.7" fill="none"/>
<path d="M477.45 404.8V389.75H483.75V404.8Z" fill="#14a650"/>
<path d="M477.45 404.8V393.38H483.75V404.8Z" fill="#f9b020"/>
<path d="M477.45 404.8V403.11L480.6 396.81L483.75 403.11V404.8Z" fill="#3b2a96"/>
<path d="M478.25 386.48L482.95 391.18M482.95 386.48L478.25 391.18" stroke="#0a5fb4" stroke-width="1.7" fill="none"/>
<path d="M486.35 404.8V386.53H492.65V404.8Z" fill="#14a650"/>
<path d="M486.35 404.8V393.38H492.65V404.8Z" fill="#f9b020"/>
<path d="M486.35 404.8V403.11L489.5 396.81L492.65 403.11V404.8Z" fill="#3b2a96"/>
<polygon points="489.5,365.88 492.3,368.68 489.5,371.48 486.7,368.68" fill="none" stroke="#0a5fb4" stroke-width="1.4"/>
<rect x="486.95" y="314.96" width="5.1" height="5.1" fill="none" stroke="#0a5fb4" stroke-width="1.4"/>
<rect x="486.2" y="82.73" width="6.6" height="2.2" fill="#0a5fb4"/>
<path d="M495.25 404.8V380.89H501.55V404.8Z" fill="#0a5fb4"/>
<path d="M495.25 404.8V389.01L498.4 382.71L501.55 389.01V404.8Z" fill="#0a5fb4"/>
<path d="M495.25 404.8V391.24A3.15 3.15 0 0 1 501.55 391.24V404.8Z" fill="#3b2a96"/>
<path d="M495.25 404.8V400.23H501.55V404.8Z" fill="#f9b020"/>
<path d="M496.05 374.79L500.75 379.49M500.75 374.79L496.05 379.49" stroke="#0a5fb4" stroke-width="1.7" fill="none"/>
<polygon points="498.4,324.69 502.1,328.39 498.4,332.09 494.7,328.39" fill="#0a5fb4"/><polygon points="498.4,326.89 499.9,328.39 498.4,329.89 496.9,328.39" fill="#7aa2d8"/>
<circle cx="498.4" cy="212.76" r="3.3" fill="#0a5fb4"/><circle cx="498.4" cy="212.76" r="1.5" fill="#7aa2d8"/>
<circle cx="498.4" cy="180.53" r="3.3" fill="#0a5fb4"/>
<circle cx="498.4" cy="19.37" r="2.6" fill="none" stroke="#0a5fb4" stroke-width="1.4"/>
<path d="M504.14 404.8V378.88H510.44V404.8Z" fill="#14a650"/>
<path d="M504.14 404.8V386.01A3.15 3.15 0 0 1 510.44 386.01V404.8Z" fill="#3b2a96"/>
<path d="M504.14 404.8V388.55H510.44V404.8Z" fill="#14a650"/>
<path d="M504.14 404.8V397.29A3.15 3.15 0 0 1 510.44 397.29V404.8Z" fill="#3b2a96"/>
<path d="M504.14 404.8V400.23H510.44V404.8Z" fill="#f9b020"/>
<polygon points="507.29,297.29 511.09,303.79 503.49,303.79" fill="#14a650"/>
<polygon points="507.29,254.47 509.84,258.77 504.74,258.77" fill="none" stroke="#0a5fb4" stroke-width="1.4"/>
<path d="M513.04 404.8V397.29A3.15 3.15 0 0 1 519.34 397.29V404.8Z" fill="#3b2a96"/>
<path d="M513.04 404.8V400.23H519.34V404.8Z" fill="#f9b020"/>
<path d="M521.94 404.8V398.67L525.09 392.37L528.24 398.67V404.8Z" fill="#0a5fb4"/>
<path d="M521.94 404.8V400.11A3.15 3.15 0 0 1 528.24 400.11V404.8Z" fill="#3b2a96"/>
<polygon points="525.09,381.9 528.89,388.4 521.29,388.4" fill="#0a5fb4"/>
<rect x="521.84" y="374.29" width="6.5" height="6.5" fill="#0a5fb4"/><path d="M523.59 376.04L526.59 379.04M526.59 376.04L523.59 379.04" stroke="#7aa2d8" stroke-width="0.9" fill="none"/><circle cx="525.09" cy="377.54" r="0.9" fill="#7aa2d8"/>
<polygon points="525.09,365.79 528.79,369.49 525.09,373.19 521.39,369.49" fill="#0a5fb4"/>
<path d="M530.84 404.8V388.95H537.13V404.8Z" fill="#0a5fb4"/>
<path d="M530.84 404.8V392.98H537.13V404.8Z" fill="#14a650"/>
<path d="M530.84 404.8V400.11A3.15 3.15 0 0 1 537.13 400.11V404.8Z" fill="#3b2a96"/>
<rect x="531.78" y="391.05" width="4.4" height="1.2" fill="#fff"/>
<polygon points="533.99,381.9 537.78,388.4 530.19,388.4" fill="#f9b020"/>
<rect x="530.74" y="373.89" width="6.5" height="6.5" fill="#14a650"/>
<circle cx="533.99" cy="373.11" r="3.3" fill="#f9b020"/>
<polygon points="533.99,331.02 536.53,335.32 531.44,335.32" fill="none" stroke="#0a5fb4" stroke-width="1.4"/>
<polygon points="533.99,313.01 537.69,316.71 533.99,320.41 530.28,316.71" fill="#0a5fb4"/>
<path d="M531.09 216.79H536.88M533.99 213.89V219.69" stroke="#0a5fb4" stroke-width="1.7" fill="none"/>
<polygon points="533.99,153.05 537.78,159.55 530.19,159.55" fill="#0a5fb4"/>
<polygon points="533.99,132.51 537.69,136.21 533.99,139.91 530.28,136.21" fill="#0a5fb4"/><polygon points="533.99,134.71 535.49,136.21 533.99,137.71 532.49,136.21" fill="#7aa2d8"/>
<path d="M539.73 404.8V389.23A3.15 3.15 0 0 1 546.03 389.23V404.8Z" fill="#14a650"/>
<path d="M539.73 404.8V393.78H546.03V404.8Z" fill="#0a5fb4"/>
<circle cx="542.88" cy="397.69" r="3.3" fill="#0a5fb4"/><circle cx="542.88" cy="397.69" r="1.5" fill="#7aa2d8"/>
<polygon points="542.88,374.65 546.68,381.15 539.08,381.15" fill="#f9b020"/>
<circle cx="542.88" cy="373.92" r="3.3" fill="#f9b020"/>
<circle cx="542.88" cy="369.49" r="3.3" fill="#3b2a96"/>
<polygon points="542.88,345.24 546.68,351.74 539.08,351.74" fill="#3b2a96"/>
<polygon points="542.88,245.72 546.68,252.22 539.08,252.22" fill="#14a650"/>
<circle cx="542.88" cy="180.53" r="3.3" fill="#14a650"/>
<path d="M548.63 404.8V390.16H554.93V404.8Z" fill="#0a5fb4"/>
<path d="M548.63 404.8V393.78H554.93V404.8Z" fill="#f9b020"/>
<path d="M548.63 404.8V403.11L551.78 396.81L554.93 403.11V404.8Z" fill="#3b2a96"/>
<rect x="548.53" y="380.74" width="6.5" height="6.5" fill="#0a5fb4"/>
<circle cx="551.78" cy="385.6" r="3.3" fill="#0a5fb4"/>
<path d="M557.53 404.8V395.05L560.68 388.75L563.83 395.05V404.8Z" fill="#14a650"/>
<path d="M557.53 404.8V396.48A3.15 3.15 0 0 1 563.83 396.48V404.8Z" fill="#3b2a96"/>
<path d="M557.53 404.8V399.83H563.83V404.8Z" fill="#0a5fb4"/>
<circle cx="560.68" cy="385.2" r="3.3" fill="#f9b020"/>
<rect x="557.43" y="373.49" width="6.5" height="6.5" fill="#14a650"/>
<rect x="557.43" y="370.67" width="6.5" height="6.5" fill="#14a650"/>
<circle cx="560.68" cy="369.49" r="3.3" fill="#0a5fb4"/><circle cx="560.68" cy="369.49" r="1.5" fill="#7aa2d8"/>
<polygon points="560.68,357.73 564.48,364.23 556.88,364.23" fill="#0a5fb4"/>
<path d="M557.78 348.94H563.58M560.68 346.04V351.84" stroke="#0a5fb4" stroke-width="1.7" fill="none"/>
<polygon points="560.68,282.27 563.23,286.57 558.13,286.57" fill="none" stroke="#0a5fb4" stroke-width="1.4"/>
<polygon points="569.57,384.72 573.27,388.42 569.57,392.12 565.87,388.42" fill="#0a5fb4"/>
<path d="M566.42 404.8V388.55H572.72V404.8Z" fill="#0a5fb4"/>
<path d="M566.42 404.8V396.66L569.57 390.36L572.72 396.66V404.8Z" fill="#3b2a96"/>
<polygon points="569.57,358.23 572.37,361.03 569.57,363.83 566.77,361.03" fill="none" stroke="#0a5fb4" stroke-width="1.4"/>
<rect x="567.02" y="326.65" width="5.1" height="5.1" fill="none" stroke="#0a5fb4" stroke-width="1.4"/>
<circle cx="578.47" cy="398.49" r="3.3" fill="#14a650"/>
<polygon points="578.47,401.24 582.17,404.94 578.47,408.64 574.77,404.94" fill="#0a5fb4"/>
<path d="M575.32 404.8V397.29A3.15 3.15 0 0 1 581.62 397.29V404.8Z" fill="#3b2a96"/>
<circle cx="578.47" cy="401.32" r="3.3" fill="#3b2a96"/>
</g>
<g font-family="'Liberation Serif', serif" fill="#1f1c1c">
<g font-size="12.2" text-anchor="end">
<text x="34.4" y="410.95" textLength="5.3" lengthAdjust="spacingAndGlyphs">0</text>
<text x="34.4" y="370.66" textLength="10.6" lengthAdjust="spacingAndGlyphs">10</text>
<text x="34.4" y="330.37" textLength="10.6" lengthAdjust="spacingAndGlyphs">20</text>
<text x="34.4" y="290.08" textLength="10.6" lengthAdjust="spacingAndGlyphs">30</text>
<text x="34.4" y="249.79" textLength="10.6" lengthAdjust="spacingAndGlyphs">40</text>
<text x="34.4" y="209.5" textLength="10.6" lengthAdjust="spacingAndGlyphs">50</text>
<text x="34.4" y="169.21" textLength="10.6" lengthAdjust="spacingAndGlyphs">60</text>
<text x="34.4" y="128.92" textLength="10.6" lengthAdjust="spacingAndGlyphs">70</text>
<text x="34.4" y="88.63" textLength="10.6" lengthAdjust="spacingAndGlyphs">80</text>
<text x="34.4" y="48.34" textLength="10.6" lengthAdjust="spacingAndGlyphs">90</text>
<text x="34.4" y="8.05" textLength="15.9" lengthAdjust="spacingAndGlyphs">100</text>
</g>
<g font-size="12.2" text-anchor="middle">
<text x="44.45" y="427.3" textLength="21.2" lengthAdjust="spacingAndGlyphs">1950</text>
<text x="133.42" y="427.3" textLength="21.2" lengthAdjust="spacingAndGlyphs">1960</text>
<text x="222.39" y="427.3" textLength="21.2" lengthAdjust="spacingAndGlyphs">1970</text>
<text x="311.36" y="427.3" textLength="21.2" lengthAdjust="spacingAndGlyphs">1980</text>
<text x="400.33" y="427.3" textLength="21.2" lengthAdjust="spacingAndGlyphs">1990</text>
<text x="489.3" y="427.3" textLength="21.2" lengthAdjust="spacingAndGlyphs">2000</text>
<text x="578.27" y="427.3" textLength="21.2" lengthAdjust="spacingAndGlyphs">2010</text>
</g>
<text x="305.3" y="443.4" font-size="12.5" text-anchor="middle">Year</text>
<text transform="translate(8.9 256.2) rotate(-90)" font-size="12.3"><tspan x="0" letter-spacing="0.22">Return period</tspan><tspan x="74.4">(</tspan><tspan x="79.6">year</tspan><tspan x="100.7">)</tspan></text>
<g font-size="12">
<text x="592" y="20.7">Qianjiang</text>
<text x="592" y="39.77">Dahuangjiangkou</text>
<text x="592" y="58.85">Wuzhou</text>
<text x="592" y="77.92">Gaoyao</text>
<text x="592" y="97">Jiangbian</text>
<text x="592" y="116.07">Panjiangqiao</text>
<text x="592" y="135.15">Zhexiang</text>
<text x="592" y="154.22">Yongwei</text>
<text x="592" y="173.3">Sancha</text>
<text x="592" y="192.37">Liuzhou</text>
<text x="592" y="211.45">Pingle</text>
<text x="592" y="230.52">Baise</text>
<text x="592" y="249.6">Xinhe</text>
<text x="592" y="268.68">Nanning</text>
<text x="592" y="287.75">Guigang</text>
<text x="592" y="306.83">Jinji</text>
<text x="592" y="325.9">Changba</text>
<text x="592" y="344.98">Gaodao</text>
<text x="592" y="364.05">Shijiao</text>
<text x="592" y="383.13">Heyuan</text>
<text x="592" y="402.2">Boluo</text>
<text x="592" y="421.28">Shuangjie</text>
<text x="592" y="440.35">Changle</text>
</g>
</g>
<g>
<rect x="579.84" y="13.94" width="5.33" height="5.33" fill="#0a5fb4"/>
<polygon points="582.5,32.42 585.76,35.67 582.5,38.93 579.24,35.67" fill="#0a5fb4"/>
<path d="M579.4 54.75H585.6M582.5 51.65V57.85" stroke="#1c74c8" stroke-width="0.95" fill="none"/>
<polygon points="582.5,71.59 585.77,77.18 579.23,77.18" fill="#0a5fb4"/>
<path d="M579.5 89.9L585.5 95.9M585.5 89.9L579.5 95.9" stroke="#1c74c8" stroke-width="0.95" fill="none"/>
<path d="M579.5 108.97L585.5 114.97M585.5 108.97L579.5 114.97M582.5 108.57V115.38" stroke="#1c74c8" stroke-width="0.95" fill="none"/>
<circle cx="582.5" cy="131.05" r="3.23" fill="#0a5fb4"/>
<rect x="579.37" y="149.32" width="6.27" height="1.6" fill="#0a5fb4"/>
<rect x="579.61" y="166.66" width="5.78" height="5.08" fill="none" stroke="#1c74c8" stroke-width="1.05"/>
<polygon points="582.5,185.54 585.23,188.27 582.5,191 579.77,188.27" fill="none" stroke="#1c74c8" stroke-width="1.1"/>
<polygon points="582.5,206.15 585.05,210.45 579.95,210.45" fill="none" stroke="#1c74c8" stroke-width="1.15"/>
<circle cx="582.5" cy="226.42" r="2.75" fill="none" stroke="#1c74c8" stroke-width="1.1"/>
<rect x="581.81" y="244.29" width="4.18" height="2.42" fill="#0a5fb4"/>
<circle cx="582.5" cy="264.57" r="3.3" fill="#0a5fb4"/><circle cx="582.5" cy="264.57" r="1.5" fill="#7aa2d8"/>
<polygon points="582.5,280.32 585.83,283.65 582.5,286.98 579.17,283.65" fill="#0a5fb4"/><polygon points="582.5,282.3 583.85,283.65 582.5,285 581.15,283.65" fill="#7aa2d8"/>
<rect x="579.35" y="299.57" width="6.3" height="6.3" fill="#0a5fb4"/><path d="M581.04 301.27L583.96 304.18M583.96 301.27L581.04 304.18" stroke="#7aa2d8" stroke-width="0.87" fill="none"/><circle cx="582.5" cy="302.73" r="0.87" fill="#7aa2d8"/>
<rect x="579.25" y="318.55" width="6.5" height="6.5" fill="#14a650"/>
<polygon points="582.5,338.64 585.77,344.23 579.23,344.23" fill="#14a650"/>
<circle cx="582.5" cy="359.95" r="3.3" fill="#14a650"/>
<polygon points="582.5,376.79 585.77,382.38 579.23,382.38" fill="#f9b020"/>
<circle cx="582.5" cy="398.1" r="3.2" fill="#f9b020"/>
<polygon points="582.5,414.94 585.77,420.53 579.23,420.53" fill="#3b2a96"/>
<circle cx="582.5" cy="436.25" r="3.23" fill="#3b2a96"/>
</g>
</svg>
</body>
</html>
